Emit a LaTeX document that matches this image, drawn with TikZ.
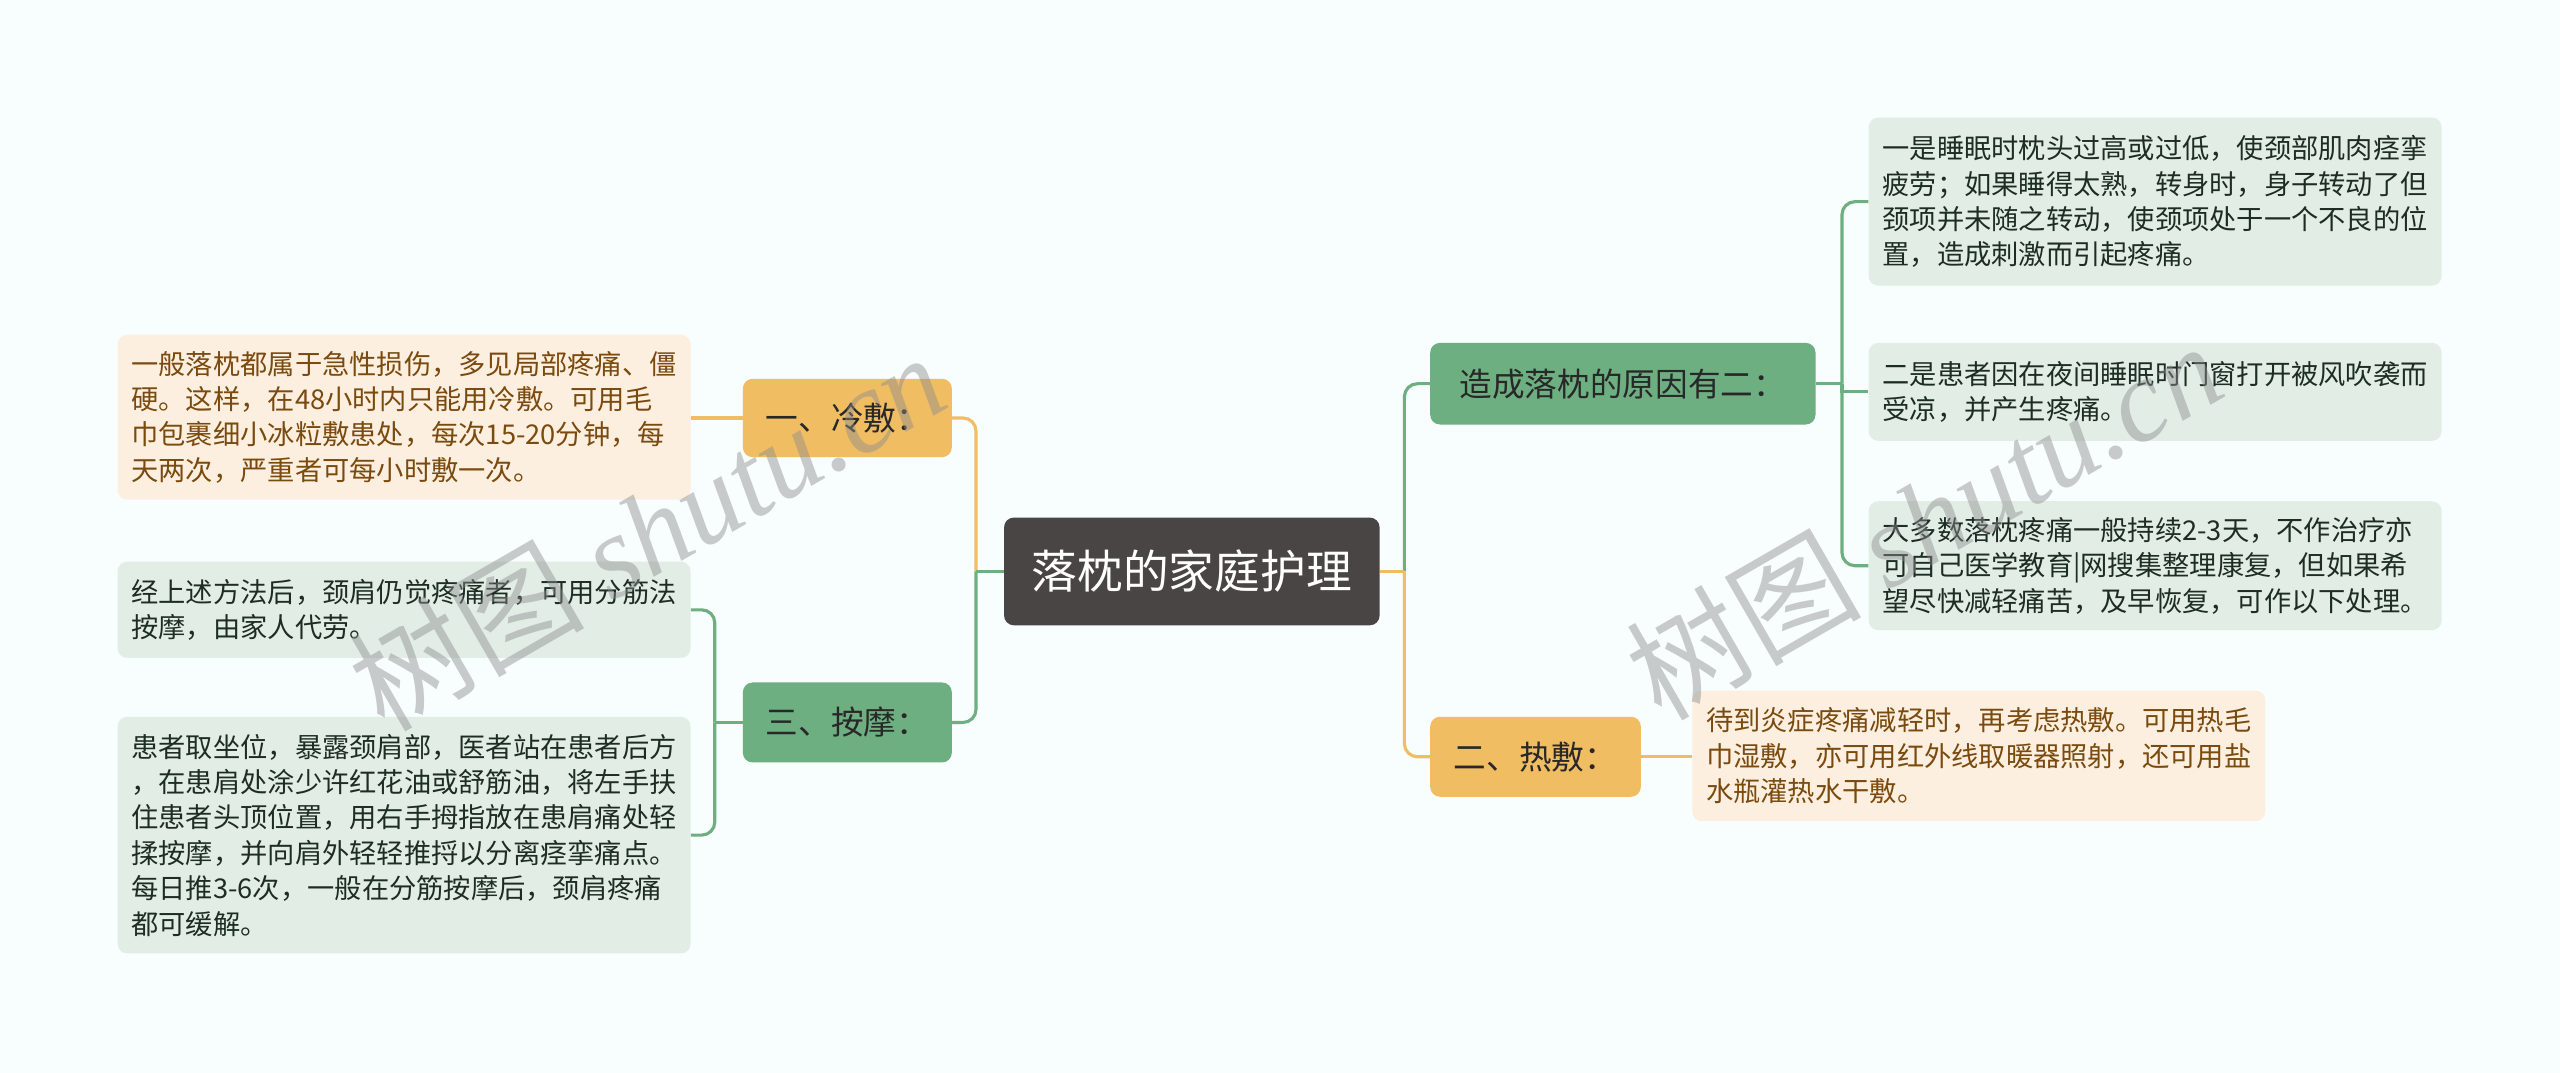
\documentclass[tikz,border=0pt]{standalone}
\usepackage{fontspec}
\setmainfont{Noto Sans CJK SC}
\newfontfamily\wmlatin{Liberation Serif}
\usetikzlibrary{positioning}
\definecolor{bgc}{RGB}{248,253,253}
\definecolor{darkc}{RGB}{74,69,69}
\definecolor{orng}{RGB}{240,189,99}
\definecolor{grn}{RGB}{110,175,130}
\definecolor{peach}{RGB}{252,239,223}
\definecolor{lgrn}{RGB}{226,238,229}
\definecolor{brownt}{RGB}{122,74,14}
\definecolor{dgt}{RGB}{30,45,35}
\definecolor{maint}{RGB}{40,40,40}
\tikzset{
  leafbox/.style={rounded corners=6pt, inner xsep=8.5pt, inner ysep=0pt, text width=334pt,
    minimum width=351pt, align=left,
    font=\fontsize{16.7pt}{21.7pt}\selectfont},
  pleaf/.style={leafbox, fill=peach, text=brownt},
  gleaf/.style={leafbox, fill=lgrn, text=dgt},
  mainbox/.style={rounded corners=6pt, inner sep=0pt, text=maint,
    font=\fontsize{20pt}{24pt}\selectfont},
  onode/.style={mainbox, fill=orng},
  gnode/.style={mainbox, fill=grn},
  oline/.style={draw=orng, line width=1.9pt, rounded corners=8pt},
  gline/.style={draw=grn, line width=1.9pt, rounded corners=8pt},
  wm/.style={text=black!45, opacity=0.45, font=\fontsize{72pt}{72pt}\selectfont}
}
\begin{document}
\begin{tikzpicture}[x=1pt,y=-1pt]
\useasboundingbox (0,0) rectangle (1568,657);
\fill[bgc] (0,0) rectangle (1568,657);

% central
\node[rounded corners=6pt, fill=darkc, text=white, minimum width=230pt, minimum height=66pt,
  font=\fontsize{28pt}{32pt}\selectfont] (c) at (730,350) {落枕的家庭护理};

% left branches
\node[onode, minimum width=128pt, minimum height=48pt] (cold) at (519,256) {一、冷敷：};
\node[gnode, minimum width=128pt, minimum height=49pt] (mas) at (519,442.5) {三、按摩：};

\node[pleaf, minimum height=101pt] (lc) at (247.5,255.5) {一般落枕都属于急性损伤，多见局部疼痛、僵\\硬。这样，在48小时内只能用冷敷。可用毛\\巾包裹细小冰粒敷患处，每次15-20分钟，每\\天两次，严重者可每小时敷一次。};
\node[gleaf, minimum height=59pt] (la) at (247.5,373.5) {经上述方法后，颈肩仍觉疼痛者，可用分筋法\\按摩，由家人代劳。};
\node[gleaf, minimum height=145pt] (lb) at (247.5,511.5) {患者取坐位，暴露颈肩部，医者站在患者后方\\，在患肩处涂少许红花油或舒筋油，将左手扶\\住患者头顶位置，用右手拇指放在患肩痛处轻\\揉按摩，并向肩外轻轻推捋以分离痉挛痛点。\\每日推3-6次，一般在分筋按摩后，颈肩疼痛\\都可缓解。};

% right branches
\node[gnode, minimum width=236pt, minimum height=50pt] (cause) at (994,235) {造成落枕的原因有二：};
\node[onode, minimum width=129pt, minimum height=49pt] (hot) at (940.5,463.5) {二、热敷：};

\node[gleaf, minimum height=103pt] (r1) at (1320,123.5) {一是睡眠时枕头过高或过低，使颈部肌肉痉挛\\疲劳；如果睡得太熟，转身时，身子转动了但\\颈项并未随之转动，使颈项处于一个不良的位\\置，造成刺激而引起疼痛。};
\node[gleaf, minimum height=60pt] (r2) at (1320,240) {二是患者因在夜间睡眠时门窗打开被风吹袭而\\受凉，并产生疼痛。};
\node[gleaf, minimum height=79pt] (r3) at (1320,346.5) {大多数落枕疼痛一般持续2-3天，不作治疗亦\\可自己医学教育|网搜集整理康复，但如果希\\望尽快减轻痛苦，及早恢复，可作以下处理。};
\node[pleaf, minimum height=80pt] (hl) at (1212,463) {待到炎症疼痛减轻时，再考虑热敷。可用热毛\\巾湿敷，亦可用红外线取暖器照射，还可用盐\\水瓶灌热水干敷。};

% junction points
\coordinate (cl) at ([xshift=-17pt]c.west);
\coordinate (cr) at ([xshift=15pt]c.east);
\coordinate (mj) at ([xshift=-17pt]mas.west);
\coordinate (cj) at ([xshift=16pt]cause.east);

% connectors
\draw[oline] (cl) |- (cold.east);
\draw[gline] (cl) |- (mas.east);
\draw[gline] (c.west) -- (cl);
\draw[oline] (cold.west) -- (lc.east |- cold.west);
\draw[gline] (mas.west) -- (mj);
\draw[gline] (mj) |- (la.east);
\draw[gline] (mj) |- (lb.east);

\draw[gline] (cr) |- (cause.west);
\draw[oline] (cr) |- (hot.west);
\draw[oline] (c.east) -- (cr);
\draw[gline] (cause.east) -- (cj);
\draw[gline] (cj) |- (r1.west);
\draw[gline, sharp corners] (cj) |- (r2.west);
\draw[gline] (cj) |- (r3.west);
\draw[oline] (hot.east) -- (hl.west |- hot.east);

% watermarks
\node[wm, rotate=30] (wm1) at (396,325) {树图 {\wmlatin\itshape shutu.cn}};
\node[wm, rotate=30] (wm2) at (1178,318) {树图 {\wmlatin\itshape shutu.cn}};
\end{tikzpicture}
\end{document}
